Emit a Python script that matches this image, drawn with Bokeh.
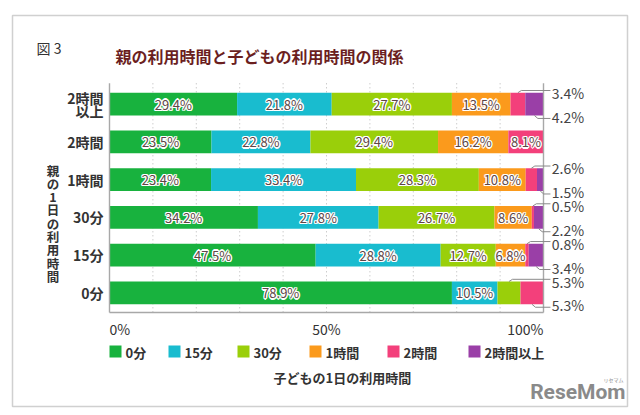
from bokeh.plotting import figure
from bokeh.models import Range1d, ColumnDataSource
from bokeh.core.properties import value
from bokeh.embed import file_html
from bokeh.resources import INLINE

# ---------------- data ----------------
chart_title = "親の利用時間と子どもの利用時間の関係"
fig_label = "図 3"
parent_labels = ["2時間\n以上", "2時間", "1時間", "30分", "15分", "0分"]
child_series = ["0分", "15分", "30分", "1時間", "2時間", "2時間以上"]
v_0min = [29.4, 23.5, 23.4, 34.2, 47.5, 78.9]
v_15min = [21.8, 22.8, 33.4, 27.8, 28.8, 10.5]
v_30min = [27.7, 29.4, 28.3, 26.7, 12.7, 5.3]
v_1h = [13.5, 16.2, 10.8, 8.6, 6.8, 0.0]
v_2h = [3.4, 8.1, 2.6, 0.5, 0.8, 5.3]
v_2hplus = [4.2, 0.0, 1.5, 2.2, 3.4, 0.0]
x_ticks = [0, 50, 100]
x_tick_labels = ["0%", "50%", "100%"]
y_title = "親の1日の利用時間"
x_title = "子どもの1日の利用時間"
colors = ["#18b23e", "#19bccf", "#9acf0a", "#fb9a1c", "#f3407b", "#9a3fa7"]

series_values = [v_0min, v_15min, v_30min, v_1h, v_2h, v_2hplus]

FONT = "Noto Sans CJK JP"
TXT = "#333333"


# page-pixel -> data helpers (layout only)
def PX(px):
    return (px - 109) / 4.34


def PY(py):
    return (py - 103.6) / 37.76


p = figure(width=632, height=410, output_backend="svg", toolbar_location=None,
           x_range=Range1d(PX(12), PX(627)), y_range=Range1d(PY(406), PY(15)),
           x_axis_type=None, y_axis_type=None,
           min_border_left=12, min_border_right=5, min_border_top=15, min_border_bottom=4)
p.grid.visible = False
p.outline_line_color = "#d0d0d0"
p.outline_line_width = 1.5
p.background_fill_color = "white"
p.border_fill_color = "white"

rows = list(range(len(parent_labels)))
top_y, bot_y = -0.55, 5.52

# dotted grid
grid_x = [t for t in range(10, 100, 10)]
p.segment(x0=grid_x, y0=[top_y] * len(grid_x), x1=grid_x, y1=[bot_y] * len(grid_x),
          line_color="#b5b5b5", line_width=1, line_dash="1 3")

# stacked bars
data = {"y": rows}
for name, vals in zip(child_series, series_values):
    data[name] = vals
src = ColumnDataSource(data)
p.hbar_stack(stackers=child_series, y="y", height=0.604, color=colors, source=src, line_width=0)

# frame lines (left, right, bottom)
p.segment(x0=[0, 100, 0], y0=[top_y, top_y, bot_y], x1=[0, 100, 100], y1=[bot_y, bot_y, bot_y],
          line_color="#a8a8a8", line_width=1.4)

# value labels
in_x, in_y, in_t = [], [], []
out_x, out_y, out_t = [], [], []
lx, ly = [], []
half = 0.302
for i in rows:
    left = 0.0
    k = 0
    for vals in series_values:
        v = vals[i]
        c = left + v / 2
        if v >= 6:
            in_x.append(c); in_y.append(i); in_t.append(f"{v:.1f}%")
        elif v > 0:
            if k == 0:
                lx.append([c, c + 0.8, 101.6]); ly.append([i - half, i - 0.36, i - 0.36])
                out_y.append(i - 0.30)
            else:
                lx.append([c, c + 0.8, 101.6]); ly.append([i + half, i + 0.38, i + 0.38])
                out_y.append(i + 0.33)
            out_x.append(101.9); out_t.append(f"{v:.1f}%")
            k += 1
        left += v

offs = [(-1.2, 0), (1.2, 0), (0, -1.2), (0, 1.2), (-1, -1), (1, 1), (-1, 1), (1, -1)]
for dx, dy in offs:
    p.text(x=in_x, y=in_y, text=in_t, x_offset=dx, y_offset=dy, text_color="white",
           text_align="center", text_baseline="middle", text_font=value(FONT),
           text_font_size="13px")
p.text(x=in_x, y=in_y, text=in_t, text_color="#5e4646", text_align="center",
       text_baseline="middle", text_font=value(FONT), text_font_size="13px")

p.multi_line(xs=lx, ys=ly, line_color="#8a8a8a", line_width=1)
p.text(x=out_x, y=out_y, text=out_t, text_color="#444444", text_align="left",
       text_baseline="middle", text_font=value(FONT), text_font_size="14px")

# category labels
p.text(x=[PX(103)] * len(rows), y=rows, text=parent_labels, text_color=TXT,
       text_align="right", text_baseline="middle", text_font=value(FONT),
       text_font_size="14px", text_font_style="bold", text_line_height=0.66)

# x tick labels
p.text(x=x_ticks, y=[PY(328)] * len(x_ticks), text=x_tick_labels, text_color=TXT,
       text_align=["left", "center", "right"], text_baseline="middle",
       text_font=value(FONT), text_font_size="14px")

# y title (vertical stacked)
p.text(x=[PX(52.5)], y=[PY(222.7)], text=["\n".join(y_title)], text_color=TXT,
       text_align="center", text_baseline="middle", text_font=value(FONT),
       text_font_size="12.5px", text_font_style="bold", text_line_height=0.7)

# legend
leg_left = [109, 168, 237, 309, 387, 468]
p.scatter(x=[PX(l + 6) for l in leg_left], y=[PY(351)] * len(leg_left), marker="square",
          size=12, color=colors, line_width=0)
p.text(x=[PX(l + 16) for l in leg_left], y=[PY(351.5)] * len(leg_left), text=child_series,
       text_color=TXT, text_align="left", text_baseline="middle", text_font=value(FONT),
       text_font_size="13px", text_font_style="bold")

# x title
p.text(x=[PX(273)], y=[PY(377)], text=[x_title], text_color=TXT, text_align="left",
       text_baseline="middle", text_font=value(FONT), text_font_size="13px",
       text_font_style="bold")

# chart title and figure label
p.text(x=[PX(115)], y=[PY(55)], text=[chart_title], text_color="#6b1f1f", text_align="left",
       text_baseline="middle", text_font=value(FONT), text_font_size="16px",
       text_font_style="bold")
p.text(x=[PX(36)], y=[PY(47)], text=[fig_label], text_color=TXT, text_align="left",
       text_baseline="middle", text_font=value(FONT), text_font_size="14px")

# logo
p.text(x=[PX(625)], y=[PY(391)], text=["ReseMom"], text_color="#8a8a8a", text_align="right",
       text_baseline="middle", text_font=value("Roboto"), text_font_size="21px",
       text_font_style="bold")
p.text(x=[PX(613)], y=[PY(379)], text=["リセマム"], text_color="#8a8a8a", text_align="center",
       text_baseline="middle", text_font=value(FONT), text_font_size="5px")

open("out.html", "w").write(file_html(p, INLINE))
